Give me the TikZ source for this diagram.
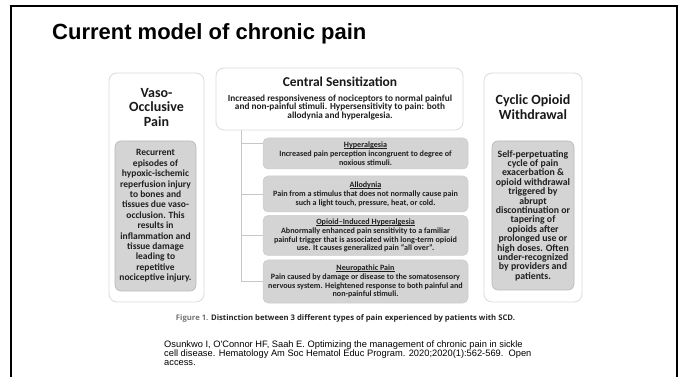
\documentclass[tikz,border=0pt]{standalone}
\usepackage{fontspec}
\setmainfont{Carlito}
\newfontfamily\arialf{Liberation Sans}
\newfontfamily\capf{Open Sans}
\newcommand\myul[1]{\setbox0\hbox{#1}\rlap{\rule[-1.1pt]{\wd0}{0.4pt}}\box0}
\begin{document}
\begin{tikzpicture}[x=1pt,y=-1pt,
  outerbox/.style={draw=black!14, line width=0.8pt, rounded corners=8pt, fill=white, inner sep=0pt},
  graybox/.style={draw=black!28, line width=0.6pt, rounded corners=6pt, fill=black!17, inner sep=0pt, align=center, text=black!88},
  cbox/.style={draw=black!20, line width=0.5pt, rounded corners=5pt, fill=black!17, inner sep=0pt, align=center, text=black!88,
     minimum width=205pt, font=\bfseries\fontsize{8.1}{8.5}\selectfont},
  bigtitle/.style={align=center, text=black!90, inner sep=0pt, font=\bfseries\fontsize{14}{14.5}\selectfont},
  bracket/.style={draw=black!22, line width=0.6pt}
]
\useasboundingbox (0,0) rectangle (681,377);
\fill[white] (0,0) rectangle (681,377);
% frame
\coordinate (fbl) at (11,377);
\coordinate (fbr) at (677,377);
\draw[line width=2pt] (fbl) |- (fbr |- 0,6) -- (fbr);
% title
\node[anchor=base west, inner sep=0pt, font=\arialf\bfseries\fontsize{22}{26}\selectfont] (title) at (52,40) {Current model of chronic pain};

% left column
\node[outerbox, minimum width=95pt, minimum height=229pt] (vop) at (156.5,187.5) {};
\node[bigtitle] (voptitle) at (156.5,107.5) {Vaso-\\Occlusive\\Pain};
\node[graybox, minimum width=81pt, minimum height=150pt, font=\bfseries\fontsize{9.5}{10.4}\selectfont] (vopbody) at (155.5,216)
 {Recurrent\\episodes of\\hypoxic-ischemic\\reperfusion injury\\to bones and\\tissues due vaso-\\occlusion. This\\results in\\inflammation and\\tissue damage\\leading to\\repetitive\\nociceptive injury.};

% right column
\node[outerbox, minimum width=98pt, minimum height=229pt] (cow) at (533,187.5) {};
\node[bigtitle] (cowtitle) at (533,107) {Cyclic Opioid\\Withdrawal};
\node[graybox, minimum width=82pt, minimum height=149pt, font=\bfseries\fontsize{9.8}{9.4}\selectfont] (cowbody) at (533,215.5)
 {Self-perpetuating\\cycle of pain\\exacerbation \&\\opioid withdrawal\\triggered by\\abrupt\\discontinuation or\\tapering of\\opioids after\\prolonged use or\\high doses. Often\\under-recognized\\by providers and\\patients.};

% central
\node[outerbox, minimum width=247pt, minimum height=62pt] (cs) at (339.5,99) {};
\node[bigtitle, font=\bfseries\fontsize{13.5}{14}\selectfont] (cstitle) at (340,82) {Central Sensitization};
\node[align=center, inner sep=0pt, text=black!88, font=\bfseries\fontsize{9.3}{8.4}\selectfont] (csbody) at (340,107.5)
 {Increased responsiveness of nociceptors to normal painful\\and non-painful stimuli. Hypersensitivity to pain: both\\allodynia and hyperalgesia.};

\node[cbox, minimum height=31pt] (hyp) at (365.5,153.5)
 {\myul{Hyperalgesia}\\[0.8pt]Increased pain perception incongruent to degree of\\noxious stimuli.};
\node[cbox, minimum height=36pt] (allo) at (365.5,194)
 {\myul{Allodynia}\\[0.8pt]Pain from a stimulus that does not normally cause pain\\such a light touch, pressure, heat, or cold.};
\node[cbox, minimum height=40pt] (oih) at (365.5,235.5)
 {\myul{Opioid--Induced Hyperalgesia}\\[0.8pt]Abnormally enhanced pain sensitivity to a familiar\\painful trigger that is associated with long-term opioid\\use. It causes generalized pain “all over”.};
\node[cbox, minimum height=43pt] (neu) at (365.5,281.5)
 {\myul{Neuropathic Pain}\\[0.8pt]Pain caused by damage or disease to the somatosensory\\nervous system. Heightened response to both painful and\\non-painful stimuli.};

% bracket
\coordinate (btop) at ([xshift=26pt]cs.south west);
\coordinate (bbot) at (btop |- neu.west);
\draw[bracket] (btop) -- (bbot) -- (neu.west);
\draw[bracket] (btop |- 0,143) -- (hyp.west |- 0,143);
\draw[bracket] (btop |- allo.west) -- (allo.west);
\draw[bracket] (btop |- oih.west) -- (oih.west);

% caption
\node[anchor=base, inner sep=0pt, font=\capf\fontsize{7.7}{8}\selectfont] (cap) at (345.5,320.5)
 {\textcolor{black!55}{\bfseries Figure 1.} \textcolor{black!85}{\bfseries Distinction between 3 different types of pain experienced by patients with SCD.}};

% citation
\node[anchor=north west, align=left, inner sep=0pt, font=\arialf\fontsize{9.3}{8.7}\selectfont] (cite) at (164,341)
 {Osunkwo I, O'Connor HF, Saah E. Optimizing the management of chronic pain in sickle\\cell disease. Hematology Am Soc Hematol Educ Program. 2020;2020(1):562-569.\ \ Open\\access.};
\end{tikzpicture}
\end{document}
